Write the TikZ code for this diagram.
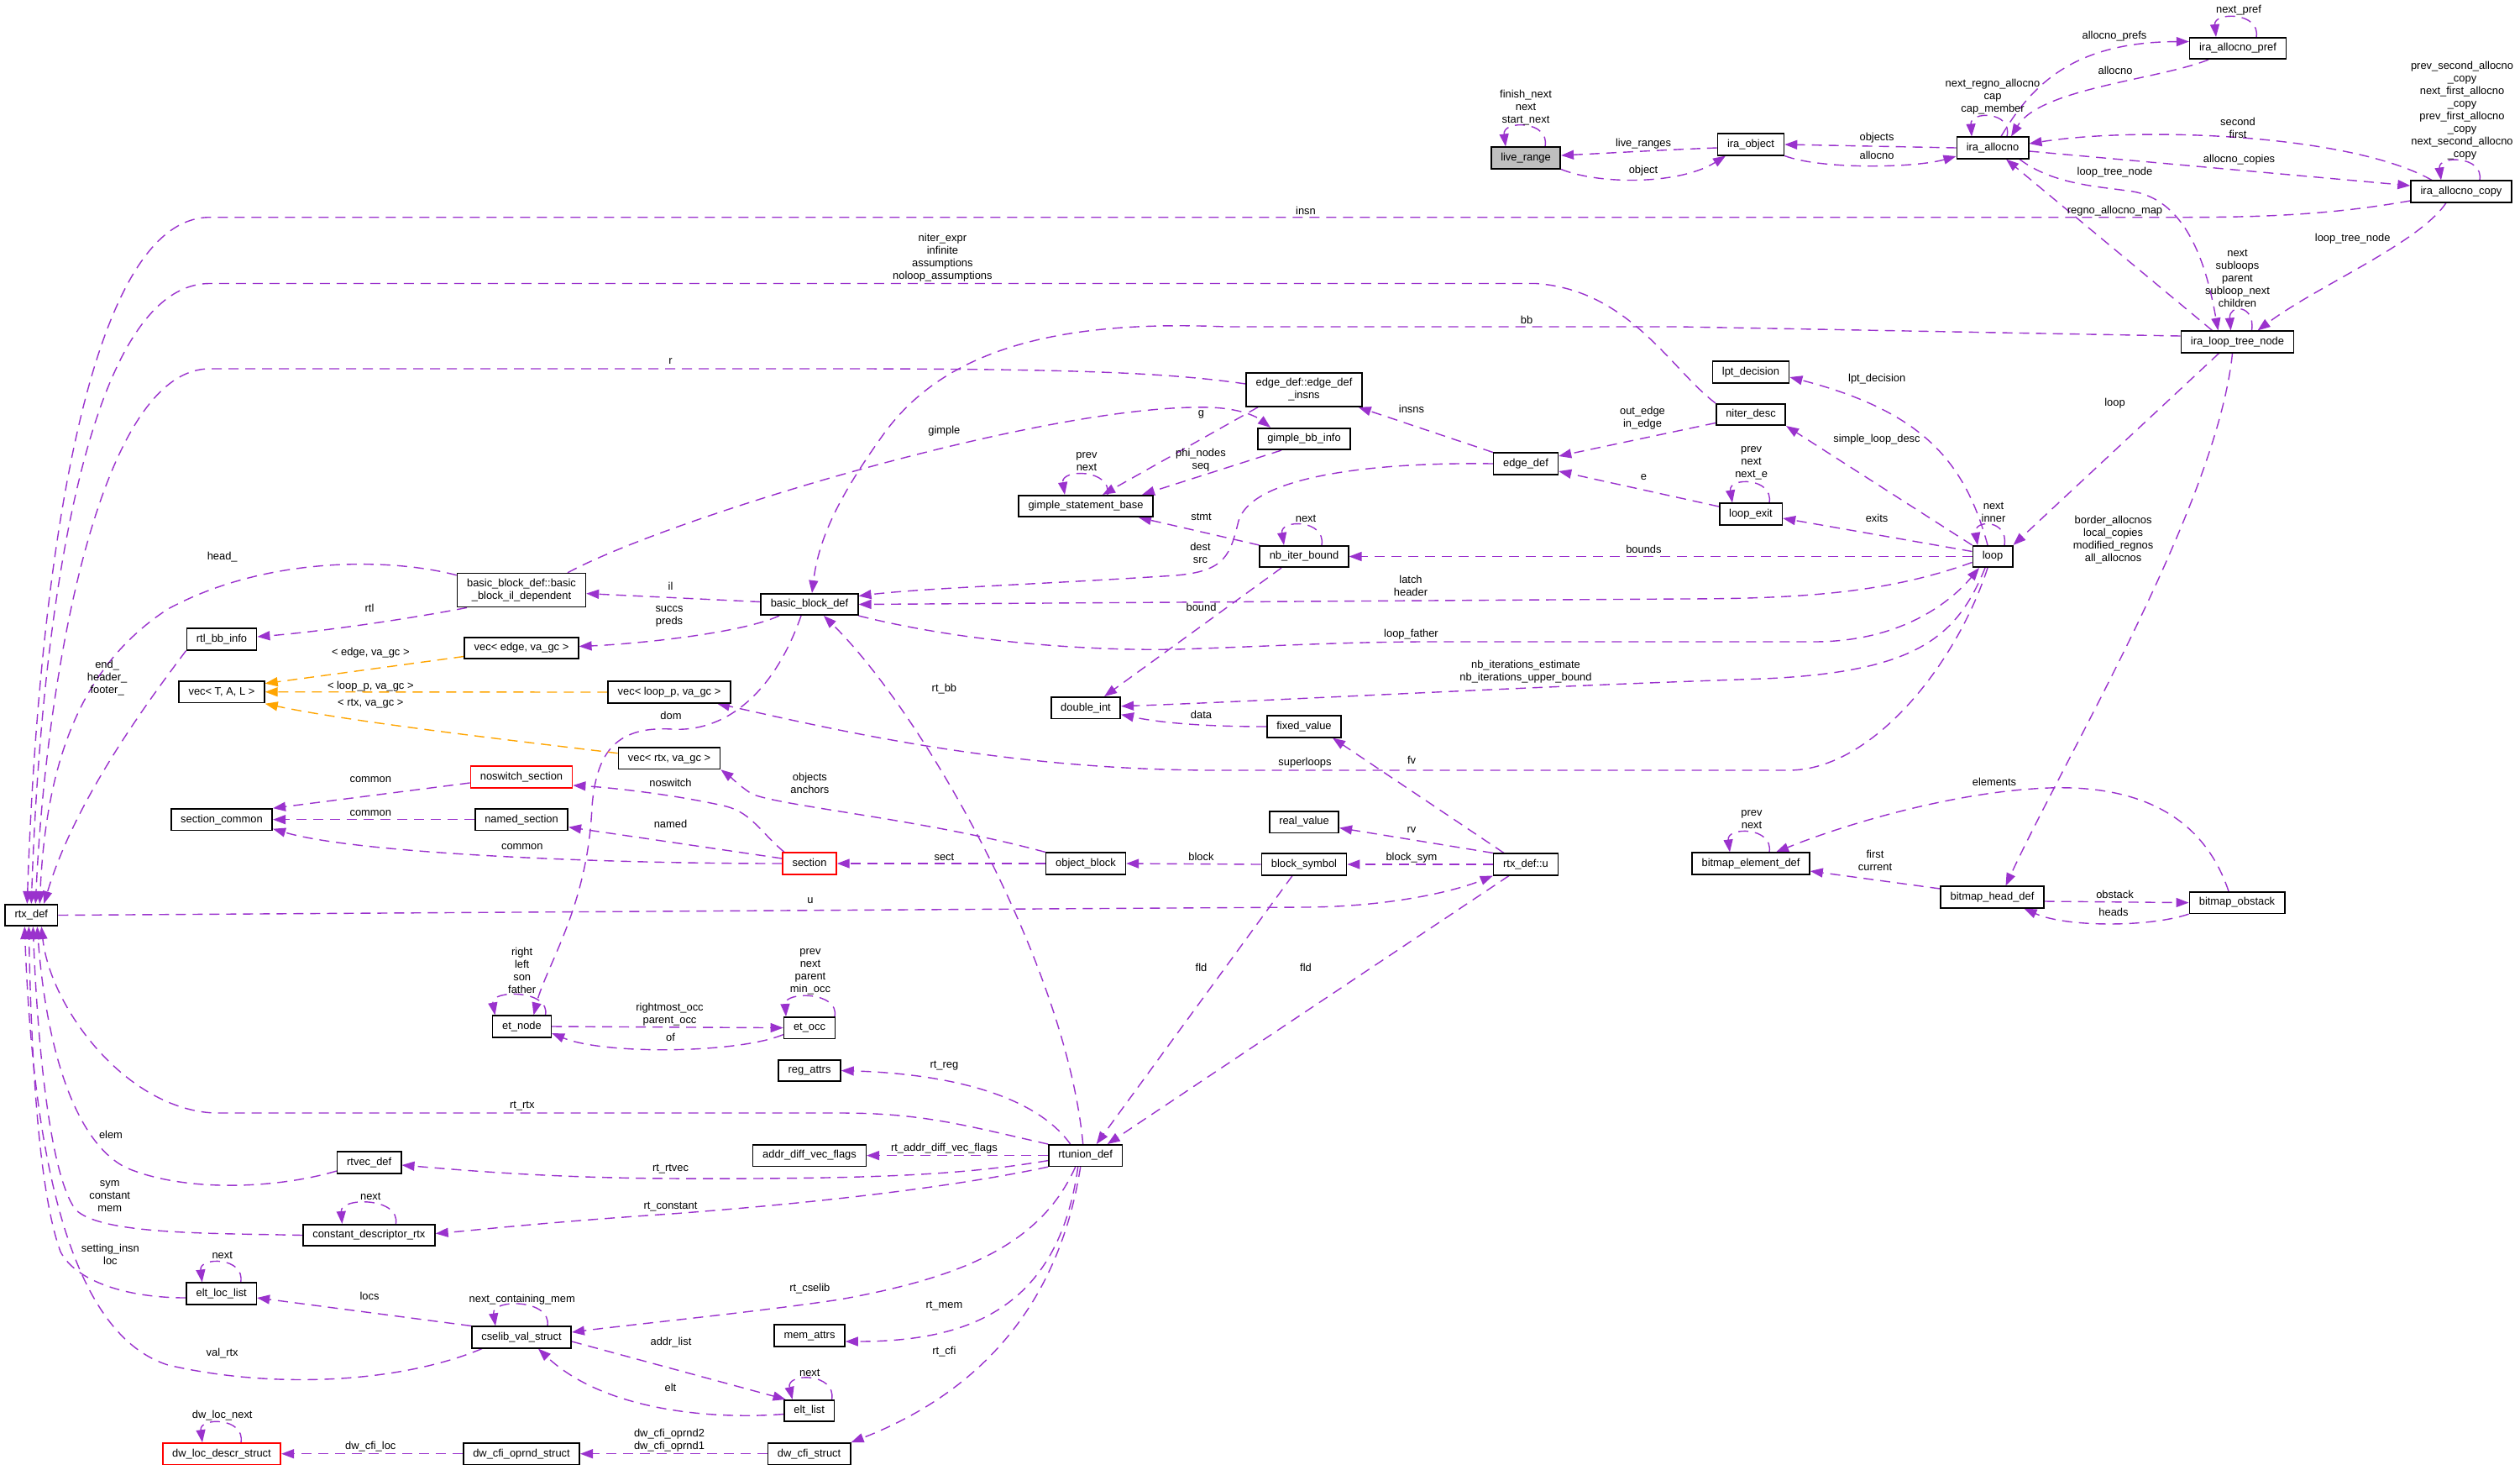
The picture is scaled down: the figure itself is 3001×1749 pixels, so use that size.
\documentclass[tikz,border=0pt]{standalone}
\usepackage{fontspec}
\setmainfont{Liberation Sans}
\usetikzlibrary{arrows.meta}
\definecolor{pc}{HTML}{9A32CD}
\definecolor{oc}{HTML}{FFA500}
\definecolor{gfill}{HTML}{BFBFBF}
\pgfdeclarelayer{bg}
\pgfsetlayers{bg,main}
\tikzset{
 box/.style={draw=black, line width=1.6pt, fill=white, inner xsep=11.5pt, inner ysep=0pt, minimum height=25.5pt, text height=9.6pt, text depth=3pt},
 boxtwo/.style={draw=black, line width=1.6pt, fill=white, inner xsep=11.5pt, inner ysep=5pt, minimum height=40pt, align=center},
 redbox/.style={box, draw=red},
 graybox/.style={box, fill=gfill},
 cl/.style={draw=pc, line width=1.4pt, dash pattern=on 12pt off 8pt, -{Triangle[length=15pt,width=11pt]}},
 tl/.style={cl, draw=oc},
 lbl/.style={inner sep=0pt, align=center, text=black},
}
\begin{document}
\begin{tikzpicture}[x=1pt,y=-1pt,font=\fontsize{12.9}{15}\selectfont]
\useasboundingbox (0,0) rectangle (3001,1749);
\begin{pgfonlayer}{bg}
\fill[white] (0,0) rectangle (3001,1749);
\end{pgfonlayer}
% ---------------- nodes
\node[graybox] (live) at (1817,188) {live\_range};
\node[box] (iraobj) at (2085,172) {ira\_object};
\node[box] (iraal) at (2373,176) {ira\_allocno};
\node[box] (pref) at (2665,57.5) {ira\_allocno\_pref};
\node[box] (copy) at (2931,228) {ira\_allocno\_copy};
\node[box] (ltn) at (2664.5,407) {ira\_loop\_tree\_node};
\node[box] (lpt) at (2085,443) {lpt\_decision};
\node[box] (niter) at (2085,493.5) {niter\_desc};
\node[box] (lexit) at (2085,612) {loop\_exit};
\node[box] (loop) at (2373,662.5) {loop};
\node[boxtwo] (edgeins) at (1553,464) {edge\_def::edge\_def\\\_insns};
\node[box] (gbb) at (1553,522.5) {gimple\_bb\_info};
\node[box] (edgedef) at (1817,552) {edge\_def};
\node[box] (gsb) at (1293,602.5) {gimple\_statement\_base};
\node[box] (nbib) at (1553,662.5) {nb\_iter\_bound};
\node[box] (bbd) at (964,719.5) {basic\_block\_def};
\node[boxtwo] (bbil) at (621,702.6) {basic\_block\_def::basic\\\_block\_il\_dependent};
\node[box] (rtlbb) at (264,761) {rtl\_bb\_info};
\node[box] (vecedge) at (621,771.5) {vec< edge, va\_gc >};
\node[box] (vecT) at (264,823.7) {vec< T, A, L >};
\node[box] (vecloop) at (797,824) {vec< loop\_p, va\_gc >};
\node[box] (dint) at (1293,842.7) {double\_int};
\node[box] (fixed) at (1553,865) {fixed\_value};
\node[box] (vecrtx) at (797,902.7) {vec< rtx, va\_gc >};
\node[redbox] (noswitch) at (621,925) {noswitch\_section};
\node[box] (seccom) at (264,975.7) {section\_common};
\node[box] (named) at (621,975.7) {named\_section};
\node[box] (realv) at (1553,978.6) {real\_value};
\node[redbox] (section) at (964,1028) {section};
\node[box] (objblk) at (1293,1028) {object\_block};
\node[box] (blksym) at (1553,1029) {block\_symbol};
\node[box] (rtxu) at (1817,1029) {rtx\_def::u};
\node[box] (bed) at (2085,1028) {bitmap\_element\_def};
\node[box] (bhd) at (2372.5,1068) {bitmap\_head\_def};
\node[box] (bobs) at (2664,1074.6) {bitmap\_obstack};
\node[box] (rtxdef) at (37.3,1089.5) {rtx\_def};
\node[box] (etnode) at (621.5,1222) {et\_node};
\node[box] (etocc) at (964,1223.6) {et\_occ};
\node[box] (regattrs) at (964,1274.5) {reg\_attrs};
\node[box] (rtvec) at (439.7,1384) {rtvec\_def};
\node[box] (addrdiff) at (964,1375.6) {addr\_diff\_vec\_flags};
\node[box] (rtunion) at (1292.7,1375.6) {rtunion\_def};
\node[box] (cdr) at (439.4,1470.5) {constant\_descriptor\_rtx};
\node[box] (eltloc) at (263.7,1540) {elt\_loc\_list};
\node[box] (cselib) at (621,1592) {cselib\_val\_struct};
\node[box] (memattrs) at (964,1590) {mem\_attrs};
\node[box] (eltlist) at (963.6,1679.5) {elt\_list};
\node[redbox] (dwloc) at (264,1730.7) {dw\_loc\_descr\_struct};
\node[box] (dwopr) at (621,1730.7) {dw\_cfi\_oprnd\_struct};
\node[box] (dwcfi) at (963.6,1730.7) {dw\_cfi\_struct};
% ---------------- edges
\begin{pgfonlayer}{bg}
\draw[cl] ([xshift=23pt]live.north) .. controls (1846,143) and (1789,143) .. ([xshift=-24pt]live.north);
\draw[cl] ([yshift=-4pt]iraobj.west) .. controls (1990,178) and (1920,182) .. ([yshift=3pt]live.east);
\draw[cl] (live.south east) .. controls (1905,220) and (2000,220) .. ([xshift=-30pt]iraobj.south);
\draw[cl] (iraal.west) -- (iraobj.east);
\draw[cl] (iraobj.south east) .. controls (2170,202) and (2280,200) .. ([yshift=-10pt]iraal.west);
\draw[cl] ([xshift=17pt]iraal.north) .. controls (2397,132) and (2346,132) .. ([xshift=-25pt]iraal.north);
\draw[cl] ([xshift=10pt]iraal.north) .. controls (2420,100) and (2470,50) .. ([yshift=8pt]pref.west);
\draw[cl] ([xshift=-35pt]pref.south) .. controls (2570,95) and (2430,105) .. ([xshift=22pt]iraal.north);
\draw[cl] ([xshift=22pt]pref.north) .. controls (2692,14) and (2636,14) .. ([xshift=-26pt]pref.north);
\draw[cl] ([xshift=-35pt]copy.north) .. controls (2800,160) and (2550,150) .. ([yshift=5pt]iraal.east);
\draw[cl] ([yshift=-4pt]iraal.east) -- ([yshift=7pt]copy.west);
\draw[cl] ([xshift=22pt]copy.north) .. controls (2958,185) and (2903,185) .. ([xshift=-24pt]copy.north);
\draw[cl] ([xshift=-18pt]copy.south) .. controls (2880,290) and (2760,340) .. ([xshift=24pt]ltn.north);
\draw[cl] ([xshift=-30pt]ltn.north) -- ([xshift=16pt]iraal.south);
\draw[cl] ([xshift=32pt]iraal.south) .. controls (2445,220) and (2500,222) .. (2540,228) .. controls (2610,240) and (2630,330) .. ([xshift=-23pt]ltn.north);
\draw[cl] ([xshift=17pt]ltn.north) .. controls (2686,362) and (2654,362) .. ([xshift=-8pt]ltn.north);
\draw[cl] ([yshift=7pt]ltn.west) -- (2000,389) -- (1460,389) .. controls (1250,380) and (1120,420) .. (1050,520) .. controls (1000,590) and (975,640) .. ([xshift=3pt]bbd.north);
\draw[cl] ([yshift=-11pt]copy.west) .. controls (2780,255) and (2700,258.7) .. (2600,258.7) -- (250,258.7) .. controls (100,258.7) and (45,700) .. ([xshift=-5pt]rtxdef.north);
\draw[cl] (niter.north west) .. controls (1990,440) and (1940,345) .. (1829,337.5) -- (250,337.5) .. controls (110,337.5) and (50,700) .. (rtxdef.north);
\draw[cl] ([yshift=7pt]edgeins.west) .. controls (1400,445) and (1300,439) .. (1000,439) -- (250,439) .. controls (120,439) and (55,800) .. ([xshift=5pt]rtxdef.north);
\draw[cl] ([yshift=-3pt]bbil.north west) .. controls (470,665) and (320,660) .. (200,725) .. controls (100,790) and (55,900) .. ([xshift=10pt]rtxdef.north);
\draw[cl] (rtlbb.south west) .. controls (180,830) and (90,950) .. ([xshift=15pt]rtxdef.north);
\draw[cl] ([xshift=-65pt]bbil.south) .. controls (480,738) and (380,752) .. ([yshift=3pt]rtlbb.east);
\draw[cl] ([xshift=55pt]bbil.north) .. controls (800,615) and (1250,480) .. (1440,485) .. controls (1475,486) and (1495,495) .. ([xshift=-40pt]gbb.north);
\draw[cl] ([yshift=3pt]bbd.west) -- ([yshift=-4pt]bbil.east);
\draw[cl] ([xshift=-36pt]bbd.south) .. controls (880,755) and (750,767) .. ([yshift=2pt]vecedge.east);
\draw[cl] ([xshift=-10pt]bbd.south) .. controls (920,830) and (860,872) .. (800,868) .. controls (730,864) and (710,900) .. (705,960) .. controls (700,1080) and (650,1150) .. ([xshift=14pt]etnode.north);
\draw[cl] ([xshift=-3pt]rtunion.north) .. controls (1270,1150) and (1100,850) .. ([xshift=17pt]bbd.south);
\draw[tl] ([yshift=-10pt]vecedge.west) -- ([yshift=10pt]vecT.east);
\draw[tl] (vecloop.west) -- (vecT.east);
\draw[tl] ([yshift=6pt]vecrtx.west) .. controls (640,885) and (420,860) .. ([yshift=-14pt]vecT.east);
\draw[cl] ([xshift=-6pt]loop.south) .. controls (2330,790) and (2230,917) .. (2130,917) -- (1450,917) .. controls (1200,917) and (1000,870) .. ([xshift=57pt]vecloop.south);
\draw[cl] (objblk.north west) .. controls (1100,975) and (930,960) .. (895,945) .. controls (880,935) and (870,925) .. (vecrtx.south east);
\draw[cl] ([xshift=-30pt]section.north) .. controls (905,990) and (895,968) .. (865,960) .. controls (800,945) and (720,937) .. ([yshift=-10pt]noswitch.east);
\draw[cl] ([yshift=6pt]section.west) -- ([yshift=-9pt]named.east);
\draw[cl] (section.west) .. controls (700,1028) and (420,1015) .. ([yshift=-11pt]seccom.east);
\draw[cl] (named.west) -- (seccom.east);
\draw[cl] ([yshift=-7pt]noswitch.west) -- (seccom.north east);
\draw[cl] (rtxdef.east) -- (1550,1080) .. controls (1650,1080) and (1730,1062) .. (rtxu.south west);
\draw[cl] (rtxu.north west) -- ([yshift=-7pt]realv.east);
\draw[cl] (rtxu.west) -- (blksym.east);
\draw[cl] ([xshift=-26pt]rtxu.north) -- ([xshift=34pt]fixed.south);
\draw[cl] (blksym.west) -- (objblk.east);
\draw[cl] (objblk.west) -- (section.east);
\draw[cl] ([xshift=28pt]etnode.north) .. controls (656,1178) and (584,1178) .. ([xshift=-32pt]etnode.north);
\draw[cl] (etnode.east) -- (etocc.west);
\draw[cl] ([yshift=-8pt]etocc.west) .. controls (880,1254) and (720,1256) .. ([yshift=-8pt]etnode.east);
\draw[cl] ([xshift=30pt]etocc.north) .. controls (1000,1180) and (934,1180) .. ([xshift=-28pt]etocc.north);
\draw[cl] ([xshift=-14pt]blksym.south) -- ([xshift=13pt]rtunion.north);
\draw[cl] ([xshift=-20pt]rtxu.south) -- ([xshift=26pt]rtunion.north);
\draw[cl] ([xshift=-18pt]rtunion.north) .. controls (1230,1300) and (1120,1278) .. (regattrs.east);
\draw[cl] (rtunion.north west) .. controls (1150,1340) and (1100,1325) .. (1000,1325) -- (255,1325) .. controls (150,1320) and (60,1200) .. ([xshift=12pt]rtxdef.south);
\draw[cl] (rtunion.west) -- (addrdiff.east);
\draw[cl] ([yshift=-6pt]rtunion.west) .. controls (1150,1398) and (1050,1404) .. (797,1403) .. controls (650,1402) and (550,1393) .. ([yshift=-3pt]rtvec.east);
\draw[cl] ([yshift=-10pt]rtvec.west) .. controls (330,1415) and (220,1420) .. (150,1390) .. controls (90,1360) and (55,1250) .. ([xshift=7pt]rtxdef.south);
\draw[cl] (rtunion.south west) .. controls (1150,1410) and (1000,1430) .. (800,1445) .. controls (650,1455) and (560,1465) .. ([yshift=2pt]cdr.east);
\draw[cl] ([xshift=32pt]cdr.north) .. controls (477,1425) and (405,1425) .. ([xshift=-32pt]cdr.north);
\draw[cl] (cdr.west) .. controls (250,1468) and (120,1470) .. (90,1440) .. controls (60,1400) and (45,1250) .. ([xshift=2pt]rtxdef.south);
\draw[cl] ([xshift=-12pt]rtunion.south) .. controls (1240,1480) and (1150,1520) .. (1000,1547) .. controls (900,1562) and (750,1577) .. ([yshift=6pt]cselib.east);
\draw[cl] ([xshift=-9pt]rtunion.south) .. controls (1260,1560) and (1150,1597) .. ([yshift=-7pt]memattrs.east);
\draw[cl] ([xshift=-6pt]rtunion.south) .. controls (1260,1560) and (1160,1660) .. (dwcfi.north east);
\draw[cl] ([xshift=31pt]cselib.north) .. controls (657,1546) and (585,1546) .. ([xshift=-31pt]cselib.north);
\draw[cl] (cselib.north west) -- ([yshift=-5pt]eltloc.east);
\draw[cl] ([xshift=23pt]eltloc.north) .. controls (292,1496) and (237,1496) .. ([xshift=-23pt]eltloc.north);
\draw[cl] ([yshift=-5pt]eltloc.west) .. controls (150,1545) and (90,1525) .. (72,1490) .. controls (50,1430) and (38,1300) .. ([xshift=-3pt]rtxdef.south);
\draw[cl] ([xshift=-47pt]cselib.south) .. controls (480,1645) and (330,1655) .. (200,1625) .. controls (90,1590) and (40,1400) .. ([xshift=-8pt]rtxdef.south);
\draw[cl] ([yshift=-5pt]cselib.east) -- ([xshift=-28pt]eltlist.north);
\draw[cl] ([yshift=-4pt]eltlist.west) .. controls (850,1690) and (720,1680) .. ([xshift=20pt]cselib.south);
\draw[cl] ([xshift=27pt]eltlist.north) .. controls (996,1634) and (936,1634) .. ([xshift=-20pt]eltlist.north);
\draw[cl] (dwcfi.west) -- (dwopr.east);
\draw[cl] (dwopr.west) -- (dwloc.east);
\draw[cl] ([xshift=23pt]dwloc.north) .. controls (292,1687) and (237,1687) .. ([xshift=-23pt]dwloc.north);
\draw[cl] (edgedef.north west) -- ([xshift=-5pt]edgeins.south east);
\draw[cl] ([xshift=-55pt]edgeins.south) -- ([xshift=20pt]gsb.north);
\draw[cl] ([xshift=-27pt]gbb.south) -- ([xshift=67pt]gsb.north);
\draw[cl] ([xshift=26pt]gsb.north) .. controls (1324,558) and (1263,558) .. ([xshift=-25pt]gsb.north);
\draw[cl] ([yshift=-10pt]niter.west) -- ([yshift=9pt]edgedef.east);
\draw[cl] ([yshift=9pt]lexit.west) -- ([yshift=-9pt]edgedef.east);
\draw[cl] ([xshift=22pt]lexit.north) .. controls (2112,568) and (2058,568) .. ([xshift=-22pt]lexit.north);
\draw[cl] (edgedef.west) .. controls (1620,550) and (1490,570) .. (1475,620) .. controls (1465,660) and (1460,680) .. (1400,685) .. controls (1250,695) and (1100,700) .. ([yshift=10pt]bbd.east);
\draw[cl] (nbib.north west) -- ([xshift=63pt]gsb.south);
\draw[cl] ([xshift=21pt]nbib.north) .. controls (1579,618) and (1524,618) .. ([xshift=-24pt]nbib.north);
\draw[cl] ([xshift=-27pt]nbib.south) -- ([xshift=22pt]dint.north);
\draw[cl] (fixed.west) .. controls (1430,865) and (1380,860) .. ([yshift=-8pt]dint.east);
\draw[cl] (loop.west) -- (nbib.east);
\draw[cl] ([yshift=-7pt]loop.west) .. controls (2250,705) and (2150,713) .. (2000,713) -- (bbd.east);
\draw[cl] (bbd.south east) .. controls (1150,765) and (1300,775) .. (1400,773) .. controls (1500,770) and (1600,764) .. (1700,764) -- (2160,764) .. controls (2260,764) and (2320,720) .. ([xshift=-16pt]loop.south);
\draw[cl] ([xshift=-9pt]loop.south) .. controls (2330,760) and (2280,800) .. (2100,808) .. controls (1800,818) and (1500,835) .. ([yshift=2pt]dint.east);
\draw[cl] ([yshift=6pt]loop.west) -- ([yshift=-5pt]lexit.east);
\draw[cl] (loop.north west) -- (niter.south east);
\draw[cl] ([xshift=-6pt]loop.north) .. controls (2340,550) and (2290,490) .. ([yshift=-6pt]lpt.east);
\draw[cl] ([xshift=14pt]loop.north) .. controls (2392,618) and (2350,618) .. ([xshift=-18pt]loop.north);
\draw[cl] ([xshift=-22pt]ltn.south) -- (loop.north east);
\draw[cl] ([xshift=-6pt]ltn.south) .. controls (2640,600) and (2460,900) .. ([xshift=16pt]bhd.north);
\draw[cl] ([yshift=10pt]bhd.west) -- ([yshift=-9pt]bed.east);
\draw[cl] ([yshift=-5pt]bhd.east) -- (bobs.west);
\draw[cl] (bobs.south west) .. controls (2560,1104) and (2460,1104) .. ([xshift=38pt]bhd.south);
\draw[cl] ([xshift=-10pt]bobs.north) .. controls (2620,960) and (2530,935) .. (2440,938) .. controls (2330,942) and (2200,980) .. ([xshift=30pt]bed.north);
\draw[cl] ([xshift=22pt]bed.north) .. controls (2112,984) and (2056,984) .. ([xshift=-25pt]bed.north);
\end{pgfonlayer}
% ---------------- labels
\node[lbl] (l1) at (1817,128) {finish\_next\\next\\start\_next};
\node[lbl] (l2) at (1957,170.7) {live\_ranges};
\node[lbl] (l3) at (1957,203) {object};
\node[lbl] (l4) at (2235,164.6) {objects};
\node[lbl] (l5) at (2235,185) {allocno};
\node[lbl] (l6) at (2373,115.6) {next\_regno\_allocno\\cap\\cap\_member};
\node[lbl] (l7) at (2518,43) {allocno\_prefs};
\node[lbl] (l8) at (2519,83.4) {allocno};
\node[lbl] (l9) at (2666,12.2) {next\_pref};
\node[lbl] (l10) at (2665,152) {second\\first};
\node[lbl] (l11) at (2666.5,190.6) {allocno\_copies};
\node[lbl] (l12) at (2932,131.3) {prev\_second\_allocno\\\_copy\\next\_first\_allocno\\\_copy\\prev\_first\_allocno\\\_copy\\next\_second\_allocno\\\_copy};
\node[lbl] (l13) at (2801.7,284) {loop\_tree\_node};
\node[lbl] (l14) at (2518.5,250.7) {regno\_allocno\_map};
\node[lbl] (l15) at (2518.5,204.7) {loop\_tree\_node};
\node[lbl] (l16) at (2664.5,331.5) {next\\subloops\\parent\\subloop\_next\\children};
\node[lbl] (l17) at (1818,381) {bb};
\node[lbl] (l18) at (798.5,697.9) {il};
\node[lbl] (l19) at (264.7,663.4) {head\_};
\node[lbl] (l20) at (440,723.5) {rtl};
\node[lbl] (l21) at (127.6,807.3) {end\_\\header\_\\footer\_};
\node[lbl] (l22) at (1124.4,512.8) {gimple};
\node[lbl] (l23) at (798.5,430.5) {r};
\node[lbl] (l24) at (1555,250.7) {insn};
\node[lbl] (l25) at (1122.4,307) {niter\_expr\\infinite\\assumptions\\noloop\_assumptions};
\node[lbl] (l26) at (965,1072.5) {u};
\node[lbl] (l27) at (1681,988.3) {rv};
\node[lbl] (l28) at (1681,1021) {block\_sym};
\node[lbl] (l29) at (1681,904.5) {fv};
\node[lbl] (l30) at (1430.5,1019.4) {block};
\node[lbl] (l31) at (1124.4,1020) {sect};
\node[lbl] (l32) at (964.4,932.5) {objects\\anchors};
\node[lbl] (l33) at (798.5,931.7) {noswitch};
\node[lbl] (l34) at (798.5,980.7) {named};
\node[lbl] (l35) at (621.8,1007.9) {common};
\node[lbl] (l36) at (441.3,967.7) {common};
\node[lbl] (l37) at (441.3,927.9) {common};
\node[lbl] (l38) at (441.3,777) {< edge, va\_gc >};
\node[lbl] (l39) at (441.3,817.3) {< loop\_p, va\_gc >};
\node[lbl] (l40) at (441.3,837.2) {< rtx, va\_gc >};
\node[lbl] (l41) at (797,734) {succs\\preds};
\node[lbl] (l42) at (1554,908.4) {superloops};
\node[lbl] (l43) at (799,851.7) {dom};
\node[lbl] (l44) at (621.7,1155) {right\\left\\son\\father};
\node[lbl] (l45) at (797.5,1207.5) {rightmost\_occ\\parent\_occ};
\node[lbl] (l46) at (798.5,1235) {of};
\node[lbl] (l47) at (965,1157) {prev\\next\\parent\\min\_occ};
\node[lbl] (l48) at (1124.4,820.3) {rt\_bb};
\node[lbl] (l49) at (1430.5,1152) {fld};
\node[lbl] (l50) at (1555,1152) {fld};
\node[lbl] (l51) at (1124.4,1269) {rt\_reg};
\node[lbl] (l52) at (621.8,1317) {rt\_rtx};
\node[lbl] (l53) at (1124.4,1367.4) {rt\_addr\_diff\_vec\_flags};
\node[lbl] (l54) at (798.5,1391.8) {rt\_rtvec};
\node[lbl] (l55) at (132,1350.5) {elem};
\node[lbl] (l56) at (798.5,1436.9) {rt\_constant};
\node[lbl] (l57) at (441.3,1424.8) {next};
\node[lbl] (l58) at (130.7,1423.7) {sym\\constant\\mem};
\node[lbl] (l59) at (964.3,1534.5) {rt\_cselib};
\node[lbl] (l60) at (1124.4,1554.4) {rt\_mem};
\node[lbl] (l61) at (1124.4,1609) {rt\_cfi};
\node[lbl] (l62) at (621.8,1547) {next\_containing\_mem};
\node[lbl] (l63) at (440,1543) {locs};
\node[lbl] (l64) at (264.7,1494.3) {next};
\node[lbl] (l65) at (131.4,1493.7) {setting\_insn\\loc};
\node[lbl] (l66) at (264.7,1610.8) {val\_rtx};
\node[lbl] (l67) at (799,1598.4) {addr\_list};
\node[lbl] (l68) at (798.5,1652) {elt};
\node[lbl] (l69) at (964.3,1634.5) {next};
\node[lbl] (l70) at (797,1715) {dw\_cfi\_oprnd2\\dw\_cfi\_oprnd1};
\node[lbl] (l71) at (441.3,1722.4) {dw\_cfi\_loc};
\node[lbl] (l72) at (264.7,1684.8) {dw\_loc\_next};
\node[lbl] (l73) at (1681,486.8) {insns};
\node[lbl] (l74) at (1430.5,493.7) {g};
\node[lbl] (l75) at (1430,547.3) {phi\_nodes\\seq};
\node[lbl] (l76) at (1294,549.8) {prev\\next};
\node[lbl] (l77) at (1956,498) {out\_edge\\in\_edge};
\node[lbl] (l78) at (1957.4,568.3) {e};
\node[lbl] (l79) at (2085.6,551.7) {prev\\next\\next\_e};
\node[lbl] (l80) at (1429.5,658) {dest\\src};
\node[lbl] (l81) at (1430.5,615.6) {stmt};
\node[lbl] (l82) at (1555,617) {next};
\node[lbl] (l83) at (1430.5,722.4) {bound};
\node[lbl] (l84) at (1430.5,850.6) {data};
\node[lbl] (l85) at (1957.4,654.3) {bounds};
\node[lbl] (l86) at (1680,697.7) {latch\\header};
\node[lbl] (l87) at (1680.5,755.3) {loop\_father};
\node[lbl] (l88) at (1817,800) {nb\_iterations\_estimate\\nb\_iterations\_upper\_bound};
\node[lbl] (l89) at (2235,616.7) {exits};
\node[lbl] (l90) at (2235,522.7) {simple\_loop\_desc};
\node[lbl] (l91) at (2235.2,450.7) {lpt\_decision};
\node[lbl] (l92) at (2374,609.7) {next\\inner};
\node[lbl] (l93) at (2518.5,480.3) {loop};
\node[lbl] (l94) at (2516.6,642.6) {border\_allocnos\\local\_copies\\modified\_regnos\\all\_allocnos};
\node[lbl] (l95) at (2233,1024) {first\\current};
\node[lbl] (l96) at (2518.5,1065) {obstack};
\node[lbl] (l97) at (2517,1086.3) {heads};
\node[lbl] (l98) at (2375,930.6) {elements};
\node[lbl] (l99) at (2086,975.4) {prev\\next};
\end{tikzpicture}
\end{document}
